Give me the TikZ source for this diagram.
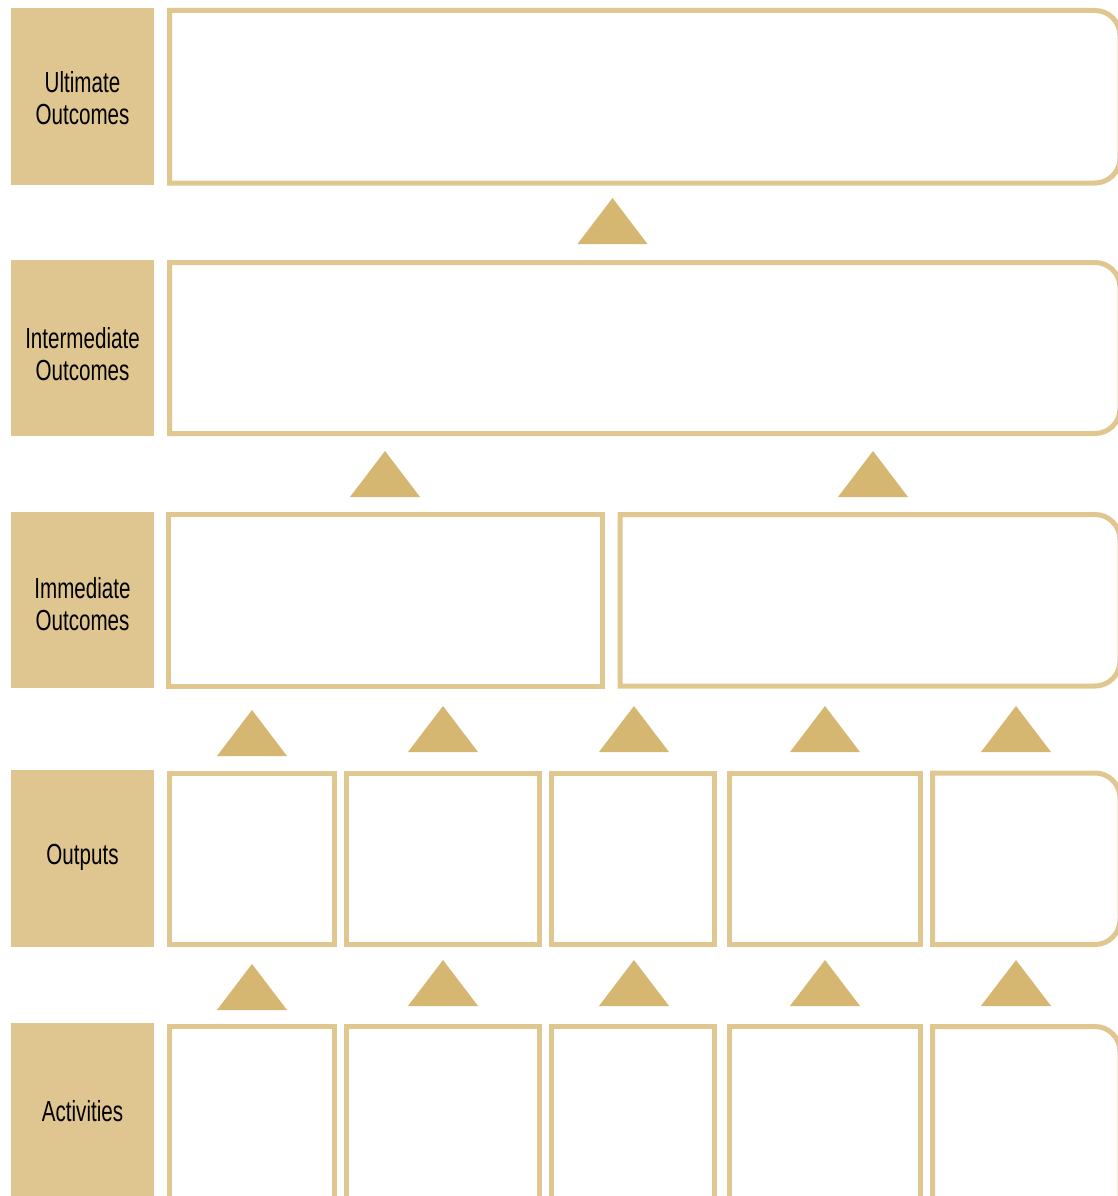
\documentclass[tikz,border=0pt]{standalone}
\usepackage{fontspec}
\setmainfont{Liberation Sans}[FakeStretch=0.71]
\definecolor{labfill}{HTML}{DFC690}
\definecolor{framecol}{HTML}{E0C78F}
\definecolor{tricol}{HTML}{D6B772}
\tikzset{
  lab/.style={rectangle, fill=labfill, draw=none, minimum width=143pt, align=center,
    inner sep=0pt, font=\fontsize{29}{32}\selectfont, text=black},
  labtext/.style={align=center, inner sep=0pt, font=\fontsize{29}{32}\selectfont, text=black},
  frame/.style={draw=framecol, line width=5pt, line join=miter},
  tri/.style={fill=tricol, draw=none}
}
\newcommand\uptri[3]{% apex x, apex y (positive px), base y
  \fill[tri] (#1,-#2) -- (#1+35,-#3) -- (#1-35,-#3) -- cycle;}
\newcommand\rframebox[4]{% left, right, top, bottom (positive px), rounded right side
  \draw[frame] (#1,-#3) -- (#2-25,-#3) arc[start angle=90,end angle=0,radius=25]
    -- (#2,-#4+25) arc[start angle=0,end angle=-90,radius=25] -- (#1,-#4) -- cycle;}
\newcommand\sqframebox[4]{% left, right, top, bottom
  \draw[frame] (#1,-#3) rectangle (#2,-#4);}
\begin{document}
\begin{tikzpicture}[x=1pt,y=1pt]
\useasboundingbox[fill=white] (0,0) rectangle (1118,-1196);
% labels
\node[lab, minimum height=177pt] (ult) at (82.5,-96.5) {};
\node[labtext] (ultT) at (82.5,-98.5) {Ultimate\\Outcomes};
\node[lab, minimum height=176pt] (inter) at (82.5,-348) {};
\node[labtext] (interT) at (82.5,-354) {Intermediate\\Outcomes};
\node[lab, minimum height=176pt] (imm) at (82.5,-600) {};
\node[labtext] (immT) at (82.5,-604) {Immediate\\Outcomes};
\node[lab, minimum height=177pt] (outp) at (82.5,-858.5) {};
\node[labtext] (outpT) at (82.5,-857.5) {Outputs};
\node[lab, minimum height=177pt] (act) at (82.5,-1111.5) {};
\node[labtext] (actT) at (82.5,-1111) {Activities};
% row 1
\rframebox{169.5}{1120}{10.5}{183}
\uptri{612.5}{198}{244}
% row 2
\rframebox{169.5}{1120}{262.5}{433.5}
\uptri{385}{451}{497}
\uptri{873}{451}{497}
% row 3
\sqframebox{168.5}{602.5}{514.5}{686}
\rframebox{620}{1120}{514.5}{686}
\uptri{252}{710}{756}
\uptri{443}{706}{752}
\uptri{634}{706}{752}
\uptri{825}{706}{752}
\uptri{1016}{706}{752}
% row 4
\sqframebox{169.5}{334}{773}{944.5}
\sqframebox{346.5}{539}{773}{944.5}
\sqframebox{551.5}{714.5}{773}{944.5}
\sqframebox{729.5}{920.5}{773}{944.5}
\rframebox{932.5}{1120}{773}{944.5}
\uptri{252}{964}{1010}
\uptri{443}{960}{1006}
\uptri{634}{960}{1006}
\uptri{825}{960}{1006}
\uptri{1016}{960}{1006}
% row 5
\sqframebox{169.5}{334}{1026.5}{1240}
\sqframebox{346.5}{539}{1026.5}{1240}
\sqframebox{551.5}{714.5}{1026.5}{1240}
\sqframebox{729.5}{920.5}{1026.5}{1240}
\rframebox{932.5}{1120}{1026.5}{1240}
\end{tikzpicture}
\end{document}
